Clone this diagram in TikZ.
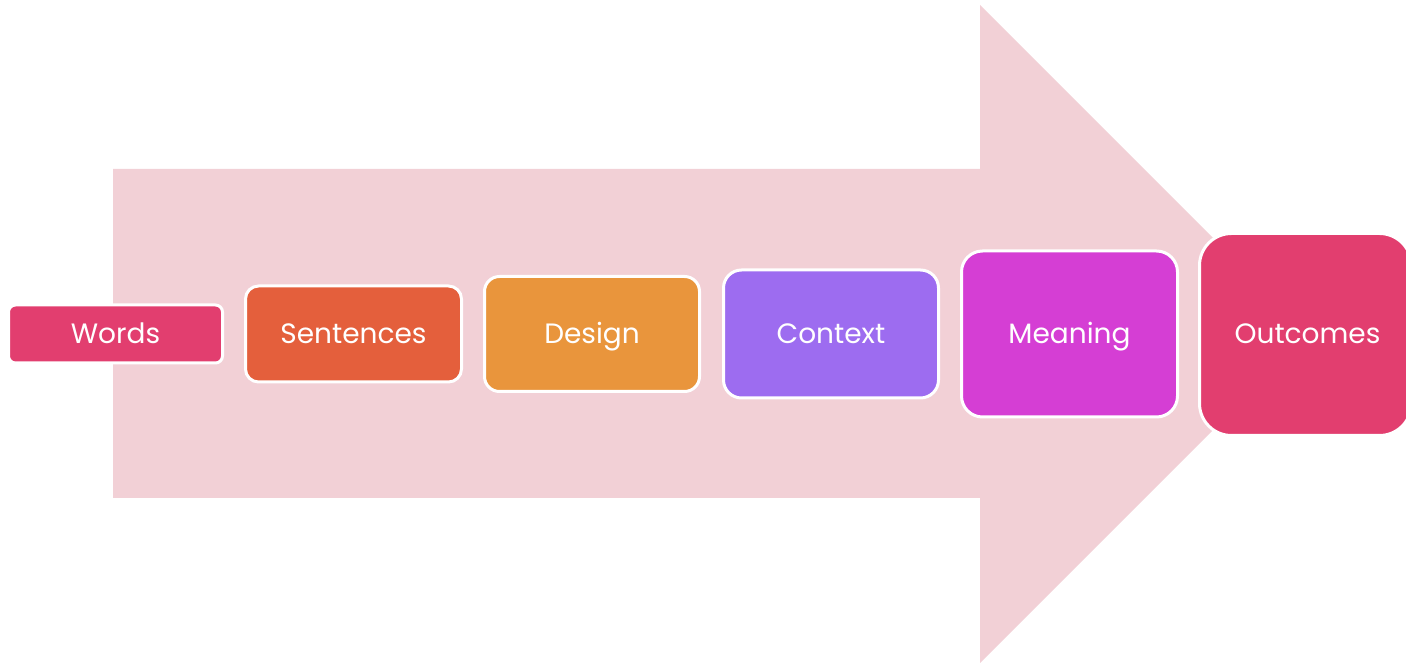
\documentclass[tikz,border=0pt]{standalone}
\usepackage{fontspec}
\setmainfont{Poppins}
\definecolor{arrowpink}{HTML}{F2D0D6}
\definecolor{cwords}{HTML}{E23E6F}
\definecolor{csent}{HTML}{E45F3C}
\definecolor{cdesign}{HTML}{E9953C}
\definecolor{ccontext}{HTML}{9D6CF0}
\definecolor{cmeaning}{HTML}{D53ED4}
\definecolor{coutcome}{HTML}{E23E6F}
\tikzset{
  label/.style={text=white, inner sep=0pt, text height=19.6pt, text depth=0pt,
    font=\fontsize{28}{32}\selectfont},
  stage/.style={label, draw=white, line width=3pt, anchor=center},
}
\begin{document}
\begin{tikzpicture}[x=1pt,y=1pt]
  \useasboundingbox (0,0) rectangle (1406,664);
  \clip (0,0) rectangle (1406,664);
  % big background arrow
  \fill[arrowpink] (113,495) -- (980,495) -- (980,659) -- (1309,330)
    -- (980,1) -- (980,166) -- (113,166) -- cycle;
  % stages, growing left to right
  \node[stage, fill=cwords, rounded corners=7pt,
    minimum width=214pt, minimum height=58pt] (words) at (115.5,330) {Words};
  \node[stage, fill=csent, rounded corners=13pt,
    minimum width=216pt, minimum height=96pt] (sentences) at (353.5,330) {Sentences};
  \node[stage, fill=cdesign, rounded corners=15pt,
    minimum width=215pt, minimum height=115pt] (design) at (592,330) {Design};
  \node[stage, fill=ccontext, rounded corners=18pt,
    minimum width=215pt, minimum height=128pt] (context) at (831,330) {Context};
  \node[stage, fill=cmeaning, rounded corners=21pt,
    minimum width=216pt, minimum height=166pt] (meaning) at (1069.5,330) {Meaning};
  \node[stage, fill=coutcome, rounded corners=32pt,
    minimum width=212pt, minimum height=202pt] (outcomes) at (1305.5,329.5) {};
  \node[label] (outtext) at (1307.5,330) {Outcomes};
\end{tikzpicture}
\end{document}
